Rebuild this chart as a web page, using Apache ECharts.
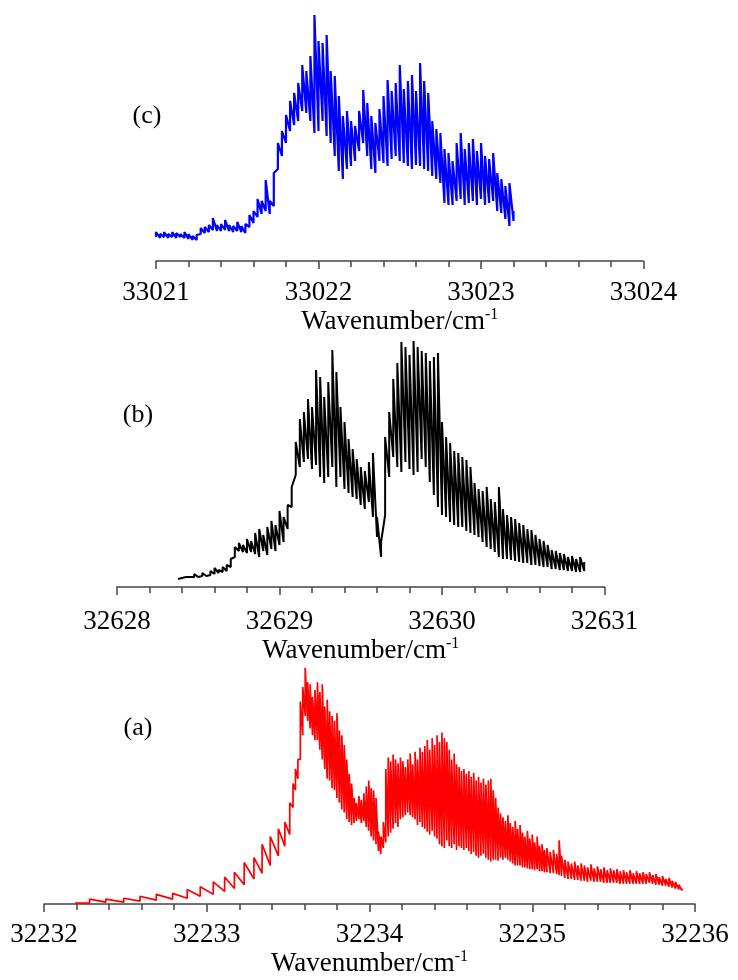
<!DOCTYPE html>
<html>
<head>
<meta charset="utf-8">
<script src="https://cdn.jsdelivr.net/npm/echarts@6/dist/echarts.min.js"></script>
<style>
html,body{margin:0;padding:0;background:#fff;}
#chart{width:738px;height:980px;}
</style>
</head>
<body>
<div id="chart"></div>
<script>
// ---------- Panel (c) ----------
const cX = [33021, 33021.025, 33021.05, 33021.075, 33021.1, 33021.125, 33021.15, 33021.175, 33021.2, 33021.225,
33021.25, 33021.275, 33021.3, 33021.325, 33021.35, 33021.375, 33021.4, 33021.425, 33021.45, 33021.475,
33021.5, 33021.525, 33021.55, 33021.575, 33021.6, 33021.625, 33021.65, 33021.675, 33021.7, 33021.725,
33021.75, 33021.775, 33021.8, 33021.825, 33021.85, 33021.875, 33021.9, 33021.925, 33021.95, 33021.975,
33022, 33022.025, 33022.05, 33022.075, 33022.1, 33022.125, 33022.15, 33022.175, 33022.2, 33022.225,
33022.25, 33022.275, 33022.3, 33022.325, 33022.35, 33022.375, 33022.4, 33022.425, 33022.45, 33022.475,
33022.5, 33022.525, 33022.55, 33022.575, 33022.6, 33022.625, 33022.65, 33022.675, 33022.7, 33022.725,
33022.75, 33022.775, 33022.8, 33022.825, 33022.85, 33022.875, 33022.9, 33022.925, 33022.95, 33022.975,
33023, 33023.025, 33023.05, 33023.075, 33023.1, 33023.125, 33023.15, 33023.175, 33023.2];
const cTop = [29,27,29,27,29,28,27,29,27,25,
26,33,34,36,43,36,37,41,36,35,
39,35,37,46,50,62,60,81,60,88,
118,130,146,160,168,178,196,190,205,246,
220,218,226,190,185,165,145,150,140,135,
150,171,158,145,138,152,165,181,170,178,
196,172,180,186,170,198,180,168,140,132,
128,112,108,100,118,128,112,118,122,110,
118,105,102,108,88,82,75,78,50];
const cBot = [24,23,24,23,24,23,24,23,22,21,
21,27,28,29,31,30,30,31,30,29,
30,29,28,34,38,44,47,50,47,55,
92,105,118,130,136,140,150,148,140,128,
130,140,125,118,105,90,82,92,95,100,
110,118,105,92,88,100,98,95,102,105,
100,98,95,92,96,95,92,90,85,82,
78,58,56,56,60,62,56,58,60,56,
62,56,58,60,50,48,42,35,40];

// ---------- Panel (b) ----------
const bX = [32628.375, 32628.4, 32628.425, 32628.45, 32628.475, 32628.5, 32628.525, 32628.55, 32628.575, 32628.6,
32628.625, 32628.65, 32628.675, 32628.7, 32628.725, 32628.75, 32628.775, 32628.8, 32628.825, 32628.85,
32628.875, 32628.9, 32628.925, 32628.95, 32628.975, 32629, 32629.025, 32629.05, 32629.075, 32629.1,
32629.125, 32629.15, 32629.175, 32629.2, 32629.225, 32629.25, 32629.275, 32629.3, 32629.325, 32629.35,
32629.375, 32629.4, 32629.425, 32629.45, 32629.475, 32629.5, 32629.525, 32629.55, 32629.575, 32629.6,
32629.625, 32629.65, 32629.675, 32629.7, 32629.725, 32629.75, 32629.775, 32629.8, 32629.825, 32629.85,
32629.875, 32629.9, 32629.925, 32629.95, 32629.975, 32630, 32630.025, 32630.05, 32630.075, 32630.1,
32630.125, 32630.15, 32630.175, 32630.2, 32630.225, 32630.25, 32630.275, 32630.3, 32630.325, 32630.35,
32630.375, 32630.4, 32630.425, 32630.45, 32630.475, 32630.5, 32630.525, 32630.55, 32630.575, 32630.6,
32630.625, 32630.65, 32630.675, 32630.7, 32630.725, 32630.75, 32630.775, 32630.8, 32630.825, 32630.85,
32630.875];
const bTop = [10,11,12,11,13,12,14,13,16,19,
17,20,22,28,40,44,42,48,46,54,
58,52,60,66,62,76,70,82,100,145,
168,175,188,180,217,210,190,205,237,215,
180,165,148,138,128,120,116,125,134,70,
45,150,175,208,224,245,240,232,246,240,
236,234,226,230,234,165,150,144,136,134,
130,127,120,104,98,96,100,88,85,100,
78,72,70,68,64,62,58,57,52,48,
46,42,37,36,34,33,30,31,28,30,
25];
const bBot = [8,9,10,10,10,10,11,11,12,13,
14,15,16,20,30,36,35,34,35,33,
30,36,32,38,36,42,45,58,80,112,
120,125,128,118,122,110,104,110,120,100,
110,98,94,90,88,82,78,85,70,50,
30,72,110,130,120,115,125,118,112,115,
128,120,105,92,80,72,70,65,62,60,
60,56,54,52,50,45,40,38,35,30,
28,28,27,26,25,24,24,22,22,21,
20,20,18,18,17,17,16,16,15,15,
16];

// ---------- Panel (a) ----------
const aX = [32232.19, 32232.28, 32232.38, 32232.49, 32232.59, 32232.69, 32232.79, 32232.88, 32232.96, 32233.04,
32233.11, 32233.17, 32233.23, 32233.29, 32233.34, 32233.39, 32233.44, 32233.48, 32233.51,
32233.53, 32233.545, 32233.56, 32233.575, 32233.59, 32233.605, 32233.62, 32233.635, 32233.65, 32233.665,
32233.68, 32233.695, 32233.71, 32233.725, 32233.74, 32233.755, 32233.77, 32233.785, 32233.8, 32233.815,
32233.83, 32233.845, 32233.86, 32233.875, 32233.89, 32233.905, 32233.92, 32233.935, 32233.95, 32233.965,
32233.98, 32233.995, 32234.01, 32234.025, 32234.04, 32234.055, 32234.07, 32234.085, 32234.1, 32234.115,
32234.13, 32234.145, 32234.16, 32234.175, 32234.19, 32234.205, 32234.22, 32234.235, 32234.25, 32234.265,
32234.28, 32234.295, 32234.31, 32234.325, 32234.34, 32234.355, 32234.37, 32234.385, 32234.4, 32234.415,
32234.43, 32234.445, 32234.46, 32234.475, 32234.49, 32234.505, 32234.52, 32234.535, 32234.55, 32234.565,
32234.58, 32234.595, 32234.61, 32234.625, 32234.64, 32234.655, 32234.67, 32234.685, 32234.7, 32234.715,
32234.73, 32234.745, 32234.76, 32234.775, 32234.79, 32234.805, 32234.82, 32234.835, 32234.85, 32234.865,
32234.88, 32234.895, 32234.91, 32234.925, 32234.94, 32234.955, 32234.97, 32234.985, 32235, 32235.015,
32235.03, 32235.045, 32235.06, 32235.075, 32235.09,
32235.11, 32235.13, 32235.15, 32235.165, 32235.18,
32235.2, 32235.22, 32235.24, 32235.26, 32235.28, 32235.3, 32235.32, 32235.34, 32235.36, 32235.38,
32235.4, 32235.42, 32235.44, 32235.46, 32235.48, 32235.5, 32235.52, 32235.54, 32235.56, 32235.58,
32235.6, 32235.62, 32235.64, 32235.66, 32235.68, 32235.7, 32235.72, 32235.74, 32235.76, 32235.78,
32235.8, 32235.82, 32235.84, 32235.86, 32235.88, 32235.9, 32235.92];
const aTop = [2,5,5,6,8,10,11,15,18,23,
28,33,43,48,62,70,78,85,105,
125,140,150,210,225,245,230,228,215,222,
230,220,228,205,212,200,195,190,198,180,
175,165,150,135,125,110,105,112,108,115,
122,128,120,118,110,75,70,85,140,152,
148,155,150,146,152,148,142,150,156,145,
158,150,162,158,164,170,160,172,165,175,
168,178,172,168,160,150,156,145,142,138,
140,135,138,132,136,128,132,126,130,124,
128,130,118,110,100,94,90,86,92,84,
80,86,78,82,74,70,76,68,72,64,
70,60,62,56,58,
54,56,52,66,50,
46,44,42,44,40,42,40,38,41,37,
39,36,38,35,37,35,36,34,35,33,
35,32,34,32,33,31,33,30,31,28,
29,26,27,24,23,20,16];
const aBot = [1,1,2,2,3,4,5,6,8,10,
13,16,20,26,32,40,50,60,72,
100,118,130,150,175,195,190,182,175,170,
170,160,150,140,130,128,120,118,110,105,
98,95,88,85,82,84,86,88,84,86,
80,76,70,66,62,55,52,58,64,70,
74,78,84,80,88,90,92,95,92,90,
88,82,85,80,78,75,72,76,70,68,
62,60,58,66,60,58,62,56,60,58,
56,58,55,52,54,50,48,50,52,48,
46,44,46,46,45,48,46,48,46,44,
42,40,40,40,38,38,37,36,36,35,
36,34,34,33,33,
32,32,31,30,29,
27,26,26,25,25,24,24,23,24,23,
23,23,22,22,22,22,22,21,21,21,
21,21,21,21,21,21,22,21,20,20,
19,19,18,17,16,15,14];

const cTicks = ['33021','33022','33023','33024'];
const bTicks = ['32628','32629','32630','32631'];
const aTicks = ['32232','32233','32234','32235','32236'];
const panelNames = ['(c)','(b)','(a)'];
const axisTitle = 'Wavenumber/cm{s|-1}';

function zig(xs, tops, bots){
  const d = [];
  for (let i = 0; i < xs.length; i++){ d.push([xs[i], bots[i]]); d.push([xs[i], tops[i]]); }
  return d;
}

const FONT = '"Liberation Serif","Times New Roman",serif';

function xAx(idx, min, max, ticks, margin, gap){
  return {
    type:'value', gridIndex:idx, min:min, max:max, interval:1,
    axisLine:{show:true, lineStyle:{color:'#444', width:1.5}},
    axisTick:{show:true, length:8, lineStyle:{color:'#444', width:1.5}},
    minorTick:{show:true, splitNumber:5, length:6, lineStyle:{color:'#444', width:1.5}},
    splitLine:{show:false},
    axisLabel:{margin:margin, fontFamily:FONT, fontSize:27, color:'#000',
      formatter:function(v){ return ticks[Math.round(v - min)] || ''; }},
    name:axisTitle, nameLocation:'middle', nameGap:gap,
    nameTextStyle:{fontFamily:FONT, fontSize:27, color:'#000', lineHeight:30,
      rich:{s:{fontFamily:FONT, fontSize:16, color:'#000', verticalAlign:'top', lineHeight:30}}}
  };
}
function yAx(idx){
  return {type:'value', gridIndex:idx, min:0, max:250, show:false, splitLine:{show:false}};
}

const chart = echarts.init(document.getElementById('chart'), null, {renderer:'canvas'});
chart.setOption({
  animation:false,
  backgroundColor:'#fff',
  grid:[
    {left:156, width:487.5, top:11, height:250},
    {left:117, width:487.5, top:337, height:250},
    {left:44, width:651, top:663, height:250}
  ],
  xAxis:[
    xAx(0, 33021, 33024, cTicks, 18, 45),
    xAx(1, 32628, 32631, bTicks, 21, 47),
    xAx(2, 32232, 32236, aTicks, 17, 45)
  ],
  yAxis:[yAx(0), yAx(1), yAx(2)],
  series:[
    {type:'line', xAxisIndex:0, yAxisIndex:0, data:zig(cX,cTop,cBot), showSymbol:false, symbol:'none',
      lineStyle:{color:'#0000ff', width:2.2}, z:3},
    {type:'line', xAxisIndex:1, yAxisIndex:1, data:zig(bX,bTop,bBot), showSymbol:false, symbol:'none',
      lineStyle:{color:'#000000', width:2}, z:3},
    {type:'line', xAxisIndex:2, yAxisIndex:2, data:zig(aX,aTop,aBot), showSymbol:false, symbol:'none',
      lineStyle:{color:'#ff0000', width:1.7}, z:3}
  ],
  graphic:[
    {type:'text', x:147, y:116, style:{text:panelNames[0], font:'26px ' + FONT, fill:'#000', align:'center', verticalAlign:'middle'}},
    {type:'text', x:138, y:415, style:{text:panelNames[1], font:'26px ' + FONT, fill:'#000', align:'center', verticalAlign:'middle'}},
    {type:'text', x:138, y:728, style:{text:panelNames[2], font:'26px ' + FONT, fill:'#000', align:'center', verticalAlign:'middle'}}
  ]
});
</script>
</body>
</html>
